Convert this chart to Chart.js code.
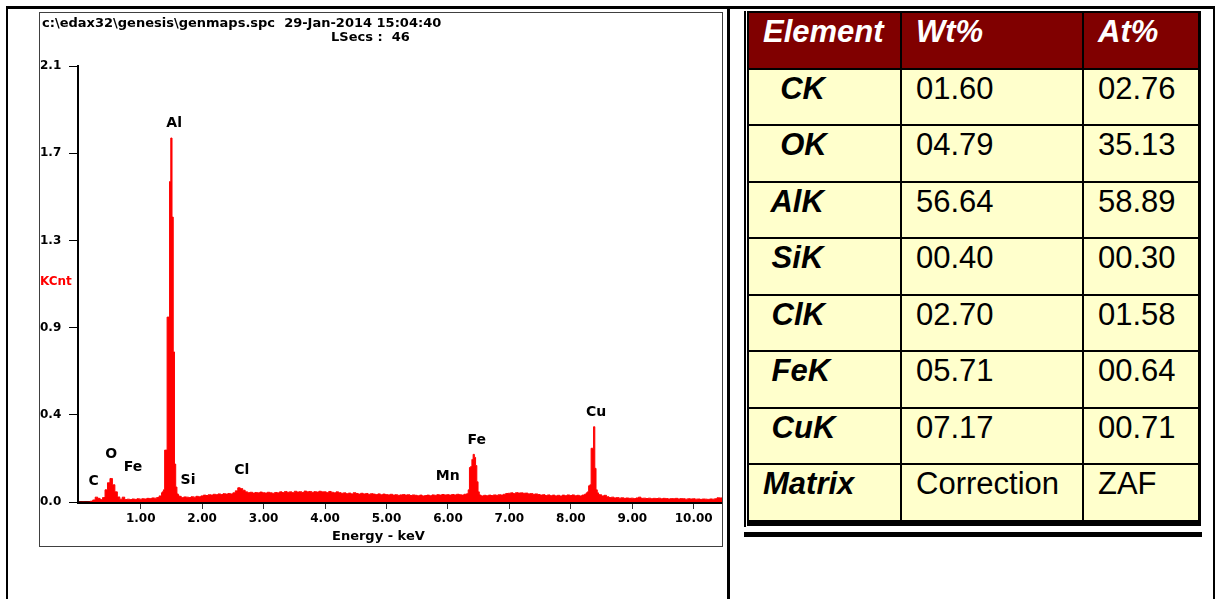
<!DOCTYPE html>
<html>
<head>
<meta charset="utf-8">
<script src="https://cdn.jsdelivr.net/npm/chart.js@4.4.0/dist/chart.umd.min.js"></script>
<style>
  html, body { margin: 0; padding: 0; background: #fff; }
  body { width: 1216px; height: 599px; overflow: hidden; position: relative; }
  #frame { position: absolute; left: 6px; top: 6px; width: 1209px; height: 640px; box-sizing: border-box;
           border: 2px solid #000; border-top-width: 3px; }
  #divider { position: absolute; left: 727px; top: 6px; width: 3px; height: 600px; background: #000; }
  #specBox { position: absolute; left: 39px; top: 12px; width: 684px; height: 535px; box-sizing: border-box;
             border: 1px solid #404040; background: #fff; }
  #specBox canvas { position: absolute; left: 0; top: 0; }
  .txt { position: absolute; font: bold 13px "DejaVu Sans", sans-serif; line-height: 15px; white-space: pre; color: #000; }
  #h1 { left: 2px; top: 2px; }
  #h2 { left: 291px; top: 16px; }
  #kcnt { left: 0; top: 261px; color: #f00; font-size: 12px; }
  #energy { left: 292px; top: 515px; }
  #outerLine { position: absolute; left: 744px; top: 11px; width: 2px; height: 516px; background: #000; }
  #bottomBar { position: absolute; left: 744px; top: 532px; width: 458px; height: 5px; background: #000; }
  #tbl { position: absolute; left: 747px; top: 11px; display: grid;
         grid-template-columns: 151px 180px 114px; grid-auto-rows: 54.55px; gap: 2px;
         background: #000; padding: 2px 3px 6px 2px; }
  .cell { background: #ffffcc; font: 31px Arial, "Liberation Sans", sans-serif; line-height: 34px;
          padding: 2px 0 0 14px; white-space: pre; color: #000; }
  .head { background: #800000; color: #fff; font-weight: bold; font-style: italic; }
  .el { font-weight: bold; font-style: italic; }
</style>
</head>
<body>
<div id="frame"></div>
<div id="divider"></div>
<div id="specBox">
  <canvas id="spectrum" width="682" height="533"></canvas>
  <div class="txt" id="h1">c:\edax32\genesis\genmaps.spc  29-Jan-2014 15:04:40</div>
  <div class="txt" id="h2">LSecs :  46</div>
  <div class="txt" id="kcnt">KCnt</div>
  <div class="txt" id="energy">Energy - keV</div>
</div>
<div id="outerLine"></div>
<div id="tbl"></div>
<div id="bottomBar"></div>

<script>
// Ejes
const xTickValues = [1, 2, 3, 4, 5, 6, 7, 8, 9, 10];
const xTickLabels = ['1.00', '2.00', '3.00', '4.00', '5.00', '6.00', '7.00', '8.00', '9.00', '10.00'];
const yTickValues = [0, 0.43, 0.86, 1.29, 1.72, 2.15];
const yTickLabels = ['0.0', '0.4', '0.9', '1.3', '1.7', '2.1'];

// Fondo del espectro, canales de 0.04 keV desde 0.00 keV (KCnt), una fila por keV
const bgStartKeV = 0;
const bgStepKeV = 0.04;
const bgCounts = [
  0, 0, 0, 0, 0, 0.004, 0.010, 0.024, 0.018, 0.012, 0.022, 0.060, 0.095, 0.116, 0.085, 0.050, 0.025, 0.014, 0.024, 0.012, 0.014, 0.012, 0.015, 0.013, 0.016,
  0.014, 0.016, 0.015, 0.018, 0.017, 0.020, 0.019, 0.022, 0.030, 0.045, 0.050, 0.050, 0.050, 0.050, 0.050, 0.035, 0.028, 0.022, 0.025, 0.024, 0.022, 0.026, 0.024, 0.028, 0.026,
  0.030, 0.034, 0.032, 0.036, 0.034, 0.038, 0.036, 0.040, 0.037, 0.041, 0.039, 0.042, 0.040, 0.045, 0.055, 0.070, 0.066, 0.058, 0.050, 0.046, 0.048, 0.044, 0.047, 0.045, 0.049,
  0.046, 0.044, 0.048, 0.045, 0.043, 0.047, 0.045, 0.050, 0.047, 0.052, 0.048, 0.050, 0.046, 0.053, 0.049, 0.051, 0.047, 0.054, 0.050, 0.052, 0.048, 0.051, 0.049, 0.053, 0.050,
  0.050, 0.047, 0.052, 0.048, 0.045, 0.050, 0.046, 0.043, 0.045, 0.041, 0.044, 0.040, 0.046, 0.042, 0.039, 0.043, 0.040, 0.042, 0.038, 0.041, 0.039, 0.037, 0.040, 0.036, 0.039,
  0.037, 0.035, 0.038, 0.034, 0.036, 0.033, 0.035, 0.037, 0.034, 0.036, 0.032, 0.035, 0.033, 0.031, 0.034, 0.030, 0.032, 0.034, 0.031, 0.035, 0.033, 0.036, 0.034, 0.037, 0.035,
  0.036, 0.034, 0.037, 0.035, 0.038, 0.036, 0.034, 0.038, 0.040, 0.040, 0.040, 0.040, 0.040, 0.034, 0.030, 0.033, 0.031, 0.034, 0.032, 0.035, 0.033, 0.036, 0.034, 0.038, 0.042,
  0.043, 0.045, 0.042, 0.046, 0.044, 0.045, 0.043, 0.044, 0.040, 0.042, 0.038, 0.040, 0.037, 0.034, 0.036, 0.032, 0.035, 0.031, 0.034, 0.030, 0.033, 0.029, 0.034, 0.031, 0.035,
  0.032, 0.035, 0.031, 0.033, 0.030, 0.034, 0.038, 0.040, 0.040, 0.040, 0.040, 0.038, 0.036, 0.030, 0.033, 0.026, 0.022, 0.024, 0.020, 0.022, 0.019, 0.021, 0.018, 0.020, 0.018,
  0.019, 0.017, 0.020, 0.024, 0.018, 0.019, 0.017, 0.019, 0.016, 0.018, 0.017, 0.019, 0.016, 0.018, 0.017, 0.015, 0.017, 0.016, 0.018, 0.015, 0.017, 0.016, 0.014, 0.016, 0.015,
  0.016, 0.014, 0.015, 0.013, 0.015, 0.014, 0.013, 0.015, 0.014, 0.016, 0.021, 0.020, 0.018
];

// Picos (canales finos de 0.02 keV)
const alPeakKeV = [1.34, 1.36, 1.38, 1.40, 1.42, 1.44, 1.46, 1.48, 1.50, 1.52, 1.54, 1.56, 1.58, 1.60, 1.62];
const alPeakCounts = [0.035, 0.050, 0.060, 0.256, 0.256, 0.912, 0.912, 1.580, 1.795, 1.405, 0.740, 0.187, 0.074, 0.040, 0.030];
const fePeakKeV = [6.30, 6.32, 6.34, 6.36, 6.38, 6.40, 6.42, 6.44, 6.46, 6.48, 6.50, 6.52];
const fePeakCounts = [0.036, 0.040, 0.060, 0.170, 0.175, 0.210, 0.235, 0.220, 0.180, 0.100, 0.050, 0.036];
const cuPeakKeV = [8.24, 8.26, 8.28, 8.30, 8.32, 8.34, 8.36, 8.38, 8.40, 8.42, 8.44, 8.46];
const cuPeakCounts = [0.038, 0.045, 0.050, 0.080, 0.085, 0.265, 0.265, 0.371, 0.166, 0.060, 0.045, 0.036];

// Etiquetas de elementos sobre el espectro
const peakNames = ['C', 'O', 'Fe', 'Al', 'Si', 'Cl', 'Mn', 'Fe', 'Cu'];
const peakLabelKeV = [0.235, 0.522, 0.875, 1.545, 1.77, 2.644, 5.996, 6.468, 8.41];
const peakLabelKCnt = [0.100, 0.235, 0.171, 1.867, 0.105, 0.154, 0.128, 0.302, 0.444];

// Tabla de resultados
const tableHeaders = ['Element', 'Wt%', 'At%'];
const elementNames = ['  CK', '  OK', ' AlK', ' SiK', ' ClK', ' FeK', ' CuK', 'Matrix'];
const wtPercent = ['01.60', '04.79', '56.64', '00.40', '02.70', '05.71', '07.17', 'Correction'];
const atPercent = ['02.76', '35.13', '58.89', '00.30', '01.58', '00.64', '00.71', 'ZAF'];

// Construir la tabla
const tbl = document.getElementById('tbl');
function addCell(text, cls) {
    const c = document.createElement('div');
    c.className = 'cell ' + cls;
    c.textContent = text;
    tbl.appendChild(c);
}
tableHeaders.forEach(h => addCell(h, 'head'));
elementNames.forEach((name, i) => {
    addCell(name, 'el');
    addCell(wtPercent[i], '');
    addCell(atPercent[i], '');
});

// Puntos del espectro
const bgPoints = bgCounts.map((v, i) => ({ x: bgStartKeV + i * bgStepKeV, y: v }));
const toPoints = (keV, counts) => keV.map((e, i) => ({ x: e, y: counts[i] }));

function spectrumSet(points) {
    return {
        data: points,
        stepped: 'middle',
        fill: 'origin',
        borderColor: '#ff0000',
        backgroundColor: '#ff0000',
        borderWidth: 1,
        pointRadius: 0
    };
}

const peakLabels = {
    id: 'peakLabels',
    afterDatasetsDraw(chart) {
        const { ctx, scales: { x, y } } = chart;
        ctx.save();
        ctx.font = 'bold 14px "DejaVu Sans"';
        ctx.fillStyle = '#000';
        ctx.textAlign = 'center';
        ctx.textBaseline = 'middle';
        peakNames.forEach((name, i) => {
            ctx.fillText(name, x.getPixelForValue(peakLabelKeV[i]), y.getPixelForValue(peakLabelKCnt[i]));
        });
        ctx.restore();
    }
};

const tickFont = { family: 'DejaVu Sans', weight: 'bold', size: 12 };

new Chart(document.getElementById('spectrum'), {
    type: 'line',
    data: {
        datasets: [
            spectrumSet(bgPoints),
            spectrumSet(toPoints(alPeakKeV, alPeakCounts)),
            spectrumSet(toPoints(fePeakKeV, fePeakCounts)),
            spectrumSet(toPoints(cuPeakKeV, cuPeakCounts))
        ]
    },
    options: {
        responsive: false,
        animation: false,
        devicePixelRatio: 1,
        layout: { padding: { top: 53, right: 0, bottom: 0, left: 0 } },
        plugins: { legend: { display: false }, tooltip: { enabled: false }, title: { display: false } },
        scales: {
            x: {
                type: 'linear',
                min: -0.02,
                max: 10.46,
                afterBuildTicks: s => { s.ticks = xTickValues.map(v => ({ value: v })); },
                afterFit: s => { s.height = 44; },
                ticks: {
                    autoSkip: false,
                    maxRotation: 0,
                    padding: 3,
                    color: '#000',
                    font: tickFont,
                    callback: v => xTickLabels[xTickValues.indexOf(v)]
                },
                grid: { drawOnChartArea: false, drawTicks: true, tickLength: 7, color: '#333', lineWidth: 1 },
                border: { display: true, color: '#000', width: 3 }
            },
            y: {
                min: 0,
                max: 2.15,
                afterBuildTicks: s => { s.ticks = yTickValues.map(v => ({ value: v })); },
                afterFit: s => { s.width = 38; },
                ticks: {
                    crossAlign: 'far',
                    color: '#000',
                    font: tickFont,
                    callback: v => yTickLabels[yTickValues.indexOf(v)]
                },
                grid: { drawOnChartArea: false, drawTicks: true, tickLength: 9, color: '#000', lineWidth: 1 },
                border: { display: true, color: '#000', width: 2 }
            }
        }
    },
    plugins: [peakLabels]
});
</script>
</body>
</html>
